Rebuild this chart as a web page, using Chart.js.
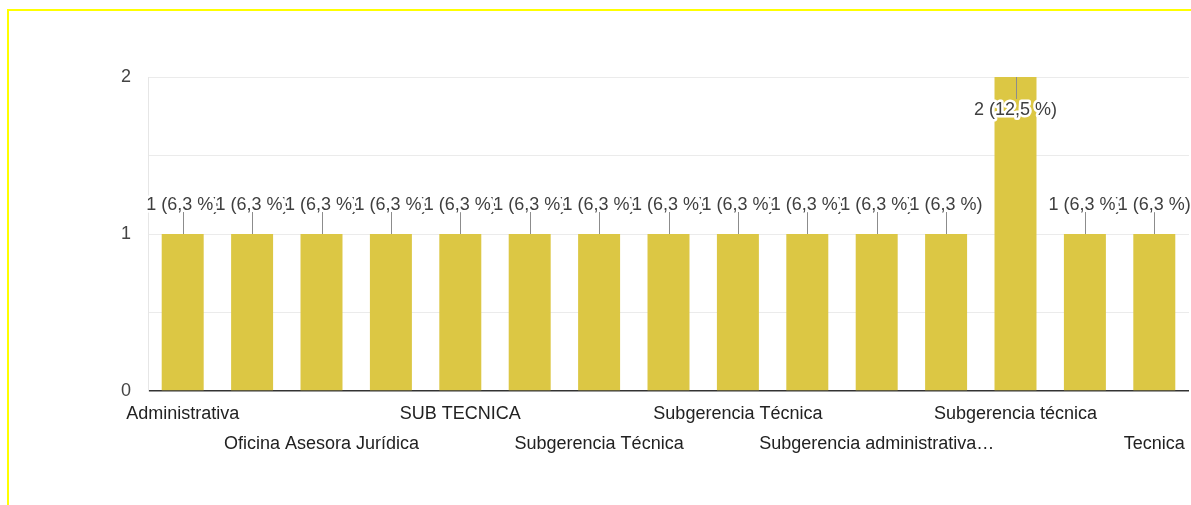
<!DOCTYPE html>
<html><head><meta charset="utf-8">
<script src="https://cdn.jsdelivr.net/npm/chart.js@4"></script>
<style>
html,body{margin:0;padding:0;background:#fff;}
#wrap{position:relative;width:1191px;height:505px;overflow:hidden;}
#frame{position:absolute;left:7px;top:9px;width:1300px;height:600px;border-top:2px solid #ffff00;border-left:2px solid #ffff00;box-sizing:border-box;}
canvas{position:absolute;left:0;top:0;}
</style></head><body>
<div id="wrap"><div id="frame"></div><canvas id="c" width="1191" height="505"></canvas></div>
<script>
// Categories (odd-index names are hidden in the reference chart)
const categories = [
  "Administrativa",
  "Gerencia",
  "Oficina Asesora Jurídica",
  "Planeación",
  "SUB TECNICA",
  "Subgerencia Administrativa",
  "Subgerencia Técnica",
  "Subgerencia Técnica ",
  "Subgerencia Técnica",
  "Subgerencia administrativa",
  "Subgerencia administrativa…",
  "Subgerencia financiera",
  "Subgerencia técnica",
  "Subgerencia técnica ",
  "Tecnica"
];
const values = [1,1,1,1,1,1,1,1,1,1,1,1,2,1,1];
const yTickLabels = [0,1,2];

const FONT = '"Liberation Sans", Arial, sans-serif';
const total = values.reduce((a,b)=>a+b,0);

const labelPlugin = {
  id:'barLabels',
  afterDatasetsDraw(chart){
    const ctx = chart.ctx; const meta = chart.getDatasetMeta(0);
    ctx.save();
    ctx.font = '18px ' + FONT;
    ctx.textAlign='center'; ctx.textBaseline='middle';
    meta.data.forEach((bar,i)=>{
      const v = values[i];
      const pct = (v/total*100).toFixed(1).replace('.',',');
      const text = v + ' (' + pct + ' %)';
      const top = bar.y;
      let ty, l1, l2;
      if (top - chart.chartArea.top < 40) { l1 = top; l2 = top+22; ty = top + 33; }
      else { l1 = top-22; l2 = top; ty = top - 29; }
      const x = Math.round(bar.x)+0.5;
      ctx.strokeStyle='#8c8c8c'; ctx.lineWidth=1;
      ctx.beginPath(); ctx.moveTo(x, l1); ctx.lineTo(x, l2); ctx.stroke();
      ctx.lineWidth=5; ctx.strokeStyle='#fff'; ctx.lineJoin='round';
      ctx.strokeText(text, bar.x, ty);
      ctx.fillStyle='#3f3f3f'; ctx.fillText(text, bar.x, ty);
    });
    ctx.restore();
  }
};

new Chart(document.getElementById('c'), {
  type:'bar',
  data:{ labels: categories, datasets:[{ data: values, backgroundColor:'#dcc744', barPercentage:0.605, categoryPercentage:1 }] },
  options:{
    responsive:false, animation:false, devicePixelRatio:1,
    layout:{ padding:{ top:77, right:2, left:0, bottom:0 } },
    plugins:{ legend:{display:false}, tooltip:{enabled:false} },
    scales:{
      x:{
        offset:true,
        grid:{ display:false },
        border:{ display:false },
        ticks:{
          autoSkip:false, maxRotation:0, minRotation:0, padding:0,
          color:'#222', font:{ family:FONT, size:18, lineHeight:1.667 },
          callback:(v,i)=> i%2 ? '' : (i%4===0 ? [categories[i], ''] : ['', categories[i]])
        },
        afterFit:(s)=>{ s.height = 114; }
      },
      y:{
        min:0, max:2,
        grid:{ drawTicks:false, color:(c)=> c.tick && c.tick.value===0 ? '#333' : '#ebebeb', lineWidth:(c)=> c.tick && c.tick.value===0 ? 1.5 : 1 },
        border:{ color:'#e6e6e6' },
        ticks:{ stepSize:0.5, padding:17, color:'#444', font:{ family:FONT, size:18 },
          callback:(v)=> yTickLabels.includes(v) ? String(v) : '' },
        afterFit:(s)=>{ s.width = 148; }
      }
    }
  },
  plugins:[labelPlugin]
});
</script>
</body></html>
